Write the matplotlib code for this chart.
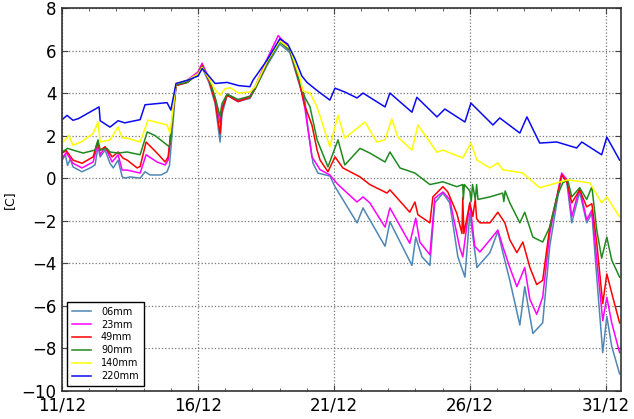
import matplotlib
matplotlib.use("Agg")
import matplotlib.pyplot as plt
from matplotlib.ticker import MultipleLocator

# x values are days since 11/12 00:00
tick_days = [0, 5, 10, 15, 20]
tick_labels = ["11/12", "16/12", "21/12", "26/12", "31/12"]
labels = ["06mm", "23mm", "49mm", "90mm", "140mm", "220mm"]
colors = ["#4f86b4", "#ff00ff", "#ff0000", "#1f8a1f", "#ffff00", "#0a0af0"]

s06 = [(0,0.85),(0.12,1.1),(0.2,0.6),(0.3,0.9),(0.4,0.53),(0.73,0.3),(1.03,0.48),(1.21,0.62),(1.32,1.47),(1.40,1.0),(1.58,1.32),(1.76,0.7),(1.88,0.48),(2.06,0.85),(2.21,0.06),(2.32,0.0),(2.50,0.06),(2.87,0.0),(3.05,0.3),(3.24,0.15),(3.64,0.15),(3.86,0.3),(3.95,0.6),(4.19,4.35),(4.6,4.5),(5.0,4.9),(5.15,5.2),(5.4,4.5),(5.63,3.5),(5.81,1.7),(5.88,3.0),(6.07,3.9),(6.47,3.6),(6.91,3.75),(7.1,4.2),(7.54,5.3),(8.01,6.3),(8.38,5.9),(8.75,4.3),(8.82,4.05),(8.93,3.67),(9.04,2.4),(9.23,0.7),(9.41,0.24),(9.85,0.1),(10.04,-0.4),(10.85,-2.1),(11.07,-1.4),(11.32,-1.96),(11.88,-3.2),(12.06,-2.05),(12.87,-4.1),(13.01,-2.77),(13.24,-3.7),(13.53,-4.1),(13.71,-1.16),(14.01,-0.7),(14.26,-1.16),(14.56,-3.7),(14.82,-4.65),(15.0,-1.65),(15.26,-4.2),(15.74,-3.5),(16.03,-2.5),(16.21,-3.47),(16.47,-4.8),(16.84,-6.9),(17.02,-5.1),(17.32,-7.3),(17.68,-6.8),(17.94,-3.2),(18.2,-1.16),(18.38,0.15),(18.57,-0.2),(18.75,-2.1),(19.04,-0.65),(19.3,-2.1),(19.49,-1.65),(19.67,-4.65),(19.89,-8.2),(20.04,-6.5),(20.22,-7.9),(20.51,-9.2)]

s23 = [(0,0.94),(0.15,1.2),(0.4,0.7),(0.73,0.48),(1.14,0.76),(1.32,1.65),(1.40,1.1),(1.58,1.47),(1.84,0.76),(2.06,1.1),(2.21,0.38),(2.39,0.38),(2.87,0.24),(3.09,1.1),(3.49,0.76),(3.79,0.62),(3.90,0.85),(4.19,4.4),(4.6,4.6),(5.0,5.0),(5.15,5.4),(5.4,4.7),(5.63,3.7),(5.81,2.6),(5.88,3.3),(6.07,3.95),(6.47,3.65),(6.91,3.85),(7.1,4.3),(7.54,5.6),(7.95,6.7),(8.38,6.1),(8.75,4.4),(8.93,3.3),(9.19,1.0),(9.49,0.4),(9.85,0.15),(10.15,-0.3),(10.85,-1.12),(11.07,-0.88),(11.32,-1.16),(11.88,-2.3),(12.06,-1.4),(12.79,-3.06),(13.01,-1.88),(13.16,-3.0),(13.53,-3.6),(13.71,-0.94),(14.01,-0.65),(14.26,-1.0),(14.63,-3.28),(14.74,-3.7),(15.0,-1.16),(15.18,-3.2),(15.37,-3.47),(15.74,-2.9),(16.03,-2.44),(16.21,-3.2),(16.47,-4.2),(16.73,-5.1),(17.02,-4.2),(17.21,-5.7),(17.46,-6.4),(17.68,-5.6),(17.94,-2.6),(18.2,-0.88),(18.38,0.24),(18.57,-0.08),(18.75,-1.8),(19.04,-0.45),(19.3,-1.96),(19.49,-1.5),(19.67,-3.85),(19.89,-6.7),(20.04,-5.6),(20.22,-6.8),(20.51,-8.2)]

s49 = [(0,1.18),(0.15,1.3),(0.4,0.85),(0.73,0.7),(1.14,1.0),(1.29,1.65),(1.40,1.32),(1.58,1.47),(1.84,1.0),(2.06,1.23),(2.24,0.94),(2.39,0.85),(2.76,0.48),(2.87,0.55),(3.09,1.7),(3.49,1.18),(3.79,0.76),(3.90,1.0),(4.19,4.35),(4.6,4.5),(5.0,4.9),(5.15,5.3),(5.4,4.6),(5.63,3.6),(5.81,2.1),(5.88,3.2),(6.07,3.9),(6.47,3.6),(6.91,3.8),(7.1,4.2),(7.54,5.4),(8.01,6.45),(8.38,6.0),(8.75,4.4),(8.93,3.4),(9.19,2.5),(9.38,1.32),(9.49,0.85),(9.78,0.3),(10.04,1.0),(10.33,0.48),(10.96,0.06),(11.32,-0.3),(11.95,-0.7),(12.06,-0.55),(12.79,-1.6),(12.98,-1.12),(13.09,-1.72),(13.53,-2.1),(13.64,-0.88),(14.01,-0.4),(14.19,-0.65),(14.52,-1.65),(14.71,-2.6),(14.74,-0.9),(14.78,-2.6),(15.0,-1.16),(15.11,-1.8),(15.2,-1.0),(15.25,-1.9),(15.37,-2.1),(15.74,-2.1),(16.03,-1.6),(16.29,-2.1),(16.47,-2.9),(16.73,-3.5),(16.95,-3.0),(17.21,-4.2),(17.46,-5.0),(17.68,-4.8),(17.94,-2.3),(18.2,-0.9),(18.38,0.15),(18.57,-0.17),(18.75,-1.16),(19.04,-0.55),(19.3,-1.35),(19.49,-1.2),(19.67,-3.06),(19.89,-5.9),(20.04,-4.5),(20.22,-5.4),(20.51,-6.8)]

s90 = [(0,1.23),(0.2,1.4),(0.4,1.32),(0.77,1.18),(1.21,1.32),(1.32,1.8),(1.40,1.32),(1.65,1.4),(1.76,1.23),(2.06,1.18),(2.39,1.23),(2.87,1.1),(3.13,2.17),(3.42,2.0),(3.86,1.56),(3.95,1.47),(4.19,4.4),(4.6,4.5),(5.0,4.9),(5.15,5.25),(5.4,4.7),(5.63,3.8),(5.81,2.9),(5.88,3.5),(6.07,3.95),(6.47,3.7),(6.91,3.85),(7.1,4.2),(7.54,5.4),(8.01,6.4),(8.38,6.0),(8.75,4.5),(8.93,3.8),(9.12,3.35),(9.38,1.8),(9.78,0.53),(10.15,1.8),(10.40,0.62),(10.96,1.4),(11.32,1.18),(11.88,0.76),(12.06,1.23),(12.43,0.48),(12.98,0.24),(13.53,-0.3),(14.01,-0.17),(14.52,-0.4),(14.74,-0.3),(14.76,-1.0),(14.80,-0.3),(15.0,-0.6),(15.05,-1.1),(15.1,-0.3),(15.2,-1.0),(15.25,-0.3),(15.3,-1.0),(15.74,-0.88),(16.21,-0.7),(16.25,-1.1),(16.3,-0.6),(16.47,-1.16),(16.84,-2.1),(17.02,-1.6),(17.32,-2.77),(17.68,-3.0),(17.94,-2.3),(18.2,-0.88),(18.42,-0.22),(18.6,-0.08),(18.75,-0.88),(19.04,-0.45),(19.3,-1.0),(19.49,-0.4),(19.67,-2.44),(19.85,-3.76),(20.04,-2.77),(20.22,-3.85),(20.51,-4.65)]

s140 = [(0,1.65),(0.25,2.0),(0.4,1.55),(0.7,1.7),(1.14,2.1),(1.32,2.64),(1.40,1.7),(1.76,1.8),(2.06,2.4),(2.2,1.9),(2.39,1.88),(2.87,1.7),(3.16,2.73),(3.86,2.5),(3.97,2.1),(4.19,4.45),(4.6,4.6),(5.0,4.9),(5.15,5.2),(5.4,4.7),(5.63,4.15),(5.81,3.9),(5.99,4.2),(6.18,4.25),(6.5,4.0),(6.91,4.05),(7.1,4.3),(7.54,5.5),(8.01,6.45),(8.38,6.1),(8.75,4.7),(8.86,4.1),(9.12,4.0),(9.38,3.35),(9.85,1.47),(10.15,2.96),(10.40,1.88),(11.14,2.64),(11.58,1.7),(11.88,1.8),(12.13,2.78),(12.35,1.93),(12.87,1.32),(13.09,2.5),(13.79,1.22),(14.01,1.32),(14.74,0.95),(15.04,1.65),(15.26,0.85),(15.74,0.48),(16.03,0.72),(16.21,0.4),(16.95,0.24),(17.57,-0.45),(18.2,-0.22),(18.6,-0.08),(19.41,-0.22),(19.85,-1.16),(20.04,-0.88),(20.51,-1.82)]

s220 = [(0,2.75),(0.18,2.95),(0.40,2.72),(0.6,2.8),(1.36,3.35),(1.40,2.7),(1.76,2.4),(2.06,2.7),(2.3,2.6),(2.87,2.75),(3.05,3.45),(3.86,3.55),(4.0,3.2),(4.19,4.45),(4.6,4.6),(5.0,4.8),(5.15,5.15),(5.4,4.8),(5.63,4.45),(6.07,4.5),(6.5,4.35),(6.91,4.3),(7.02,4.6),(7.54,5.55),(8.01,6.55),(8.3,6.3),(8.57,5.6),(8.82,4.8),(9.01,4.5),(9.4,4.1),(9.85,3.67),(10.04,4.23),(10.4,4.05),(10.85,3.77),(11.07,4.0),(11.88,3.35),(12.06,4.0),(12.87,3.1),(13.05,3.8),(13.79,2.88),(14.08,3.25),(14.82,2.64),(15.04,3.53),(15.85,2.5),(16.10,2.83),(16.84,2.12),(17.10,2.88),(17.57,1.65),(18.2,1.7),(18.93,1.42),(19.12,1.7),(19.85,1.1),(20.04,1.93),(20.51,0.85)]

series = [s06, s23, s49, s90, s140, s220]

fig = plt.figure(figsize=(6.34, 4.19), dpi=100)
ax = fig.add_axes([0.098, 0.067, 0.881, 0.914])

for data, lab, col in zip(series, labels, colors):
    xs = [p[0] for p in data]
    ys = [p[1] for p in data]
    ax.plot(xs, ys, color=col, lw=1.1, label=lab)

ax.set_xlim(0, 20.55)
ax.set_ylim(-10, 8)
ax.set_xticks(tick_days)
ax.set_xticklabels(tick_labels)
ax.xaxis.set_minor_locator(MultipleLocator(1))
ax.set_yticks(range(-10, 9, 2))
ax.set_yticklabels([("\u2212" + str(-v)) if v < 0 else str(v) for v in range(-10, 9, 2)])
ax.tick_params(which="both", direction="in", top=True, right=True, labelsize=12, color="#444444")
ax.tick_params(which="major", length=4, pad=4)
ax.tick_params(which="minor", length=2)
ax.grid(True, which="major", linestyle=":", color="#777777", lw=0.9)
for sp in ax.spines.values():
    sp.set_color("#333333")
    sp.set_linewidth(1.2)
ax.set_ylabel("[C]", fontsize=9, labelpad=4)

leg = ax.legend(loc="lower left", fontsize=7, frameon=True, fancybox=False,
                edgecolor="black", framealpha=1, labelspacing=0.3,
                handlelength=2.0, handletextpad=1.0, borderpad=0.5)
leg.get_frame().set_linewidth(1.0)

fig.savefig("out.png", dpi=100)
